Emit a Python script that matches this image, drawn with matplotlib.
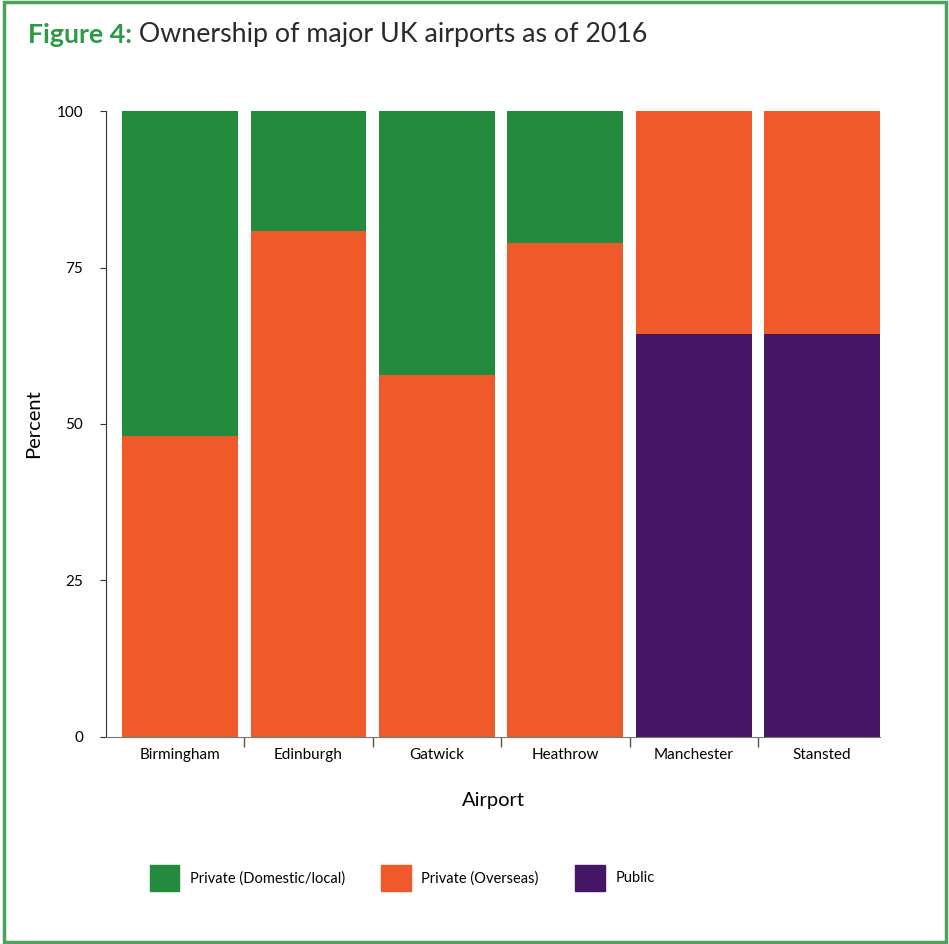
import numpy as np
import matplotlib
matplotlib.use('Agg')
import matplotlib.pyplot as plt
from matplotlib.patches import Rectangle, Patch

plt.rcParams['font.family'] = ['Lato', 'DejaVu Sans']

# dane
lotniska = ['Birmingham', 'Edinburgh', 'Gatwick', 'Heathrow', 'Manchester', 'Stansted']
publiczne = [0, 0, 0, 0, 64.4, 64.4]
zagraniczne = [48.1, 80.8, 57.8, 78.9, 35.6, 35.6]
krajowe = [51.9, 19.2, 42.2, 21.1, 0, 0]

kolory = {'krajowe': '#248a3d', 'zagraniczne': '#f05a2b', 'publiczne': '#451566'}

fig = plt.figure(figsize=(9.49, 9.44), dpi=100)
ax = fig.add_axes([0.1117, 0.2193, 0.8156, 0.6631])

x = np.arange(len(lotniska))
ax.bar(x, publiczne, width=0.9, color=kolory['publiczne'])
ax.bar(x, zagraniczne, width=0.9, bottom=publiczne, color=kolory['zagraniczne'])
dol = np.array(publiczne) + np.array(zagraniczne)
ax.bar(x, krajowe, width=0.9, bottom=dol, color=kolory['krajowe'])

ax.set_xlim(-0.575, 5.45)
ax.set_ylim(0, 100)
ax.set_yticks([0, 25, 50, 75, 100])
ax.tick_params(axis='y', labelsize=11, length=4.5, pad=12, color='#333333')

ax.set_xticks(x)
ax.set_xticklabels(lotniska)
ax.set_xticks(x[:-1] + 0.5, minor=True)
ax.tick_params(axis='x', which='major', length=0, labelsize=11, pad=8)
ax.tick_params(axis='x', which='minor', length=7, color='#555555', width=1)

for s in ['top', 'right']:
    ax.spines[s].set_visible(False)
ax.spines['left'].set_color('#333333')
ax.spines['bottom'].set_color('#777777')
ax.spines['left'].set_bounds(0, 100)

ax.set_ylabel('Percent', fontsize=14.5)
ax.yaxis.set_label_coords(-0.082, 0.5)
ax.set_xlabel('Airport', fontsize=14.5)
ax.xaxis.set_label_coords(0.5, -0.088)

# tytul
t1 = fig.text(28/949, 1 - 43/944, 'Figure 4:', fontsize=19.3, fontweight='bold',
              color='#2e9a45', ha='left', va='baseline')
fig.canvas.draw()
ax.annotate(' Ownership of major UK airports as of 2016', xy=(1, 0), xycoords=t1,
            fontsize=19.3, color='#2a2a2a', ha='left', va='bottom',
            annotation_clip=False)

# legenda
uchwyty = [Patch(color=kolory['krajowe'], label='Private (Domestic/local)'),
           Patch(color=kolory['zagraniczne'], label='Private (Overseas)'),
           Patch(color=kolory['publiczne'], label='Public')]
fig.legend(handles=uchwyty, loc='center', bbox_to_anchor=(402/949, 1 - 878/944), ncol=3,
           frameon=False, fontsize=10.5, handlelength=2.05, handleheight=2.45,
           handletextpad=0.7, columnspacing=2.5)

# ramka
fig.patches.append(Rectangle((0.004, 0.002), 0.993, 0.996, transform=fig.transFigure,
                             fill=False, edgecolor='#4ea35c', linewidth=2.5))

plt.savefig('out.png', dpi=100)
